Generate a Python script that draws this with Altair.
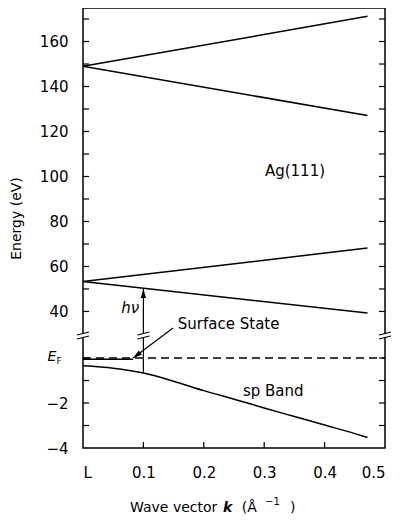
import altair as alt
import pandas as pd

FONT = "DejaVu Sans"

# ---------------- values ----------------
# final-state (upper) bands, energies in eV
band_k = [0.0, 0.471]
band1_upper = [149.0, 171.2]
band1_lower = [149.0, 127.1]
band2_upper = [53.3, 68.2]
band2_lower = [53.3, 39.3]
# sp band (initial state), energy relative to E_F in eV
sp_k = [0.0, 0.05, 0.10, 0.15, 0.20, 0.25, 0.30, 0.35, 0.40, 0.45, 0.471]
sp_E = [-0.34, -0.45, -0.67, -1.03, -1.45, -1.83, -2.22, -2.60, -2.98, -3.36, -3.53]
# surface state and Fermi level
ss_k = [0.0, 0.083]
ss_E = [-0.06, -0.06]
ef_k = [0.0, 0.5]
ef_E = [0.0, 0.0]
# photon (h nu) arrow
hv_k = 0.1
hv_E = [-0.67, 50.0]
# surface-state pointer arrow: start (text side) and tip
ss_arrow_k = [0.149, 0.083]
ss_arrow_E = [1.33, 0.0]
# axes
lower_ticks = [-3, -2, -1, 0]
upper_ticks = [40, 50, 60, 70, 80, 90, 100, 110, 120, 130, 140, 150, 160, 170]
lower_labels = [-4, -2]
upper_labels = [40, 60, 80, 100, 120, 140, 160]
x_ticks = [0.1, 0.2, 0.3, 0.4]
x_labels = [0.0, 0.1, 0.2, 0.3, 0.4, 0.5]
break_k = [0.0, 0.1, 0.5]
break_E = 1.0  # top of the lower (E - E_F) segment

# broken axis: lower segment in eV directly, upper segment compressed 10x
UPPER_SHIFT = 19.3


def lo(e):
    return e


def up(e):
    return (e - UPPER_SHIFT) / 10.0


W, H = 302, 440
xs = alt.Scale(domain=[0, 0.5], nice=False, zero=False)
ys = alt.Scale(domain=[-4, 15.56], nice=False, zero=False)

xaxis = alt.Axis(
    values=x_labels,
    labelExpr="datum.value == 0 ? 'L' : format(datum.value, '.1f')",
    title="", domain=False, ticks=False, tickSize=0, grid=False,
    labelPadding=17, labelFontSize=15, labelFont=FONT, labelColor="black",
)
yaxis = alt.Axis(
    values=[lo(v) for v in lower_labels] + [up(v) for v in upper_labels],
    labelExpr=f"datum.value < 1.5 ? format(datum.value, 'd') : format(round(datum.value * 10 + {UPPER_SHIFT}), 'd')",
    title="Energy (eV)", titleFont=FONT, titleFontSize=14, titleFontWeight="normal",
    titleColor="black", titleX=-60, titleY=210, titleAngle=270, titleBaseline="bottom",
    domain=False, ticks=False, tickSize=0, grid=False,
    labelPadding=15, labelFontSize=15, labelFont=FONT, labelColor="black",
)
X = alt.X("k:Q", scale=xs, axis=xaxis)
Y = alt.Y("y:Q", scale=ys, axis=yaxis)

# ---------------- curves ----------------
rows = []
for name, vals in [("b1u", band1_upper), ("b1l", band1_lower), ("b2u", band2_upper), ("b2l", band2_lower)]:
    for k, e in zip(band_k, vals):
        rows.append({"s": name, "k": k, "y": up(e)})
for k, e in zip(ss_k, ss_E):
    rows.append({"s": "ss", "k": k, "y": lo(e)})
curves = pd.DataFrame(rows)

lines = alt.Chart(curves).mark_line(color="black", strokeWidth=1.5).encode(
    x=X, y=Y, detail="s:N", order="k:Q")

sp = alt.Chart(pd.DataFrame({"k": sp_k, "y": [lo(e) for e in sp_E]})).mark_line(
    color="black", strokeWidth=1.5, interpolate="monotone").encode(x=X, y=Y, order="k:Q")

ef = alt.Chart(pd.DataFrame({"k": ef_k, "y": [lo(e) for e in ef_E]})).mark_line(
    color="black", strokeWidth=1.5, strokeDash=[8, 5]).encode(x=X, y=Y)

# ---------------- ticks (inward) ----------------
tick_y = pd.DataFrame({"y": [lo(v) for v in lower_ticks] + [up(v) for v in upper_ticks]})
lt = alt.Chart(tick_y).mark_rule(color="black", strokeWidth=1.2).encode(
    x=alt.value(0), x2=alt.value(6), y=Y)
rt = alt.Chart(tick_y).mark_rule(color="black", strokeWidth=1.2).encode(
    x=alt.value(W - 6), x2=alt.value(W), y=Y)
bt = alt.Chart(pd.DataFrame({"k": x_ticks})).mark_rule(color="black", strokeWidth=1.2).encode(
    x=X, y=alt.value(H), y2=alt.value(H - 6))

# ---------------- h nu arrow ----------------
hv_df = pd.DataFrame({"k": [hv_k], "y": [lo(hv_E[0])], "k2": [hv_k], "y2": [up(hv_E[1])]})
hv_line = alt.Chart(hv_df).mark_rule(color="black", strokeWidth=1.2).encode(
    x=X, y=Y, x2="k2:Q", y2="y2:Q")
ARROW = "M0,-1L0.6,1L-0.6,1Z"
hv_head = alt.Chart(pd.DataFrame({"k": [hv_k], "y": [up(hv_E[1])]})).mark_point(
    shape=ARROW, filled=True, color="black", opacity=1, size=81, strokeWidth=0, yOffset=4.5
).encode(x=X, y=Y)

# ---------------- surface state pointer ----------------
ss_df = pd.DataFrame({"k": [ss_arrow_k[0]], "y": [lo(ss_arrow_E[0])],
                      "k2": [ss_arrow_k[1]], "y2": [lo(ss_arrow_E[1])]})
ss_line = alt.Chart(ss_df).mark_rule(color="black", strokeWidth=1.2).encode(
    x=X, y=Y, x2="k2:Q", y2="y2:Q")
ss_head = alt.Chart(pd.DataFrame({"k": [ss_arrow_k[1]], "y": [lo(ss_arrow_E[1])]})).mark_point(
    shape=ARROW, filled=True, color="black", opacity=1, size=81, strokeWidth=0,
    angle=233, xOffset=3.6, yOffset=-2.7
).encode(x=X, y=Y)

# ---------------- axis breaks ----------------
br = pd.DataFrame({"k": break_k, "y": [lo(break_E)] * len(break_k)})
br_white = alt.Chart(br).mark_rule(color="white", strokeWidth=4, yOffset=-1.5, y2Offset=1.5).encode(
    x=X, y=Y, y2=alt.Y2("y"))
br_a = alt.Chart(br).mark_rule(color="black", strokeWidth=1.2, xOffset=-6, x2Offset=6,
                               yOffset=-0.5, y2Offset=-3.5).encode(x=X, y=Y, x2=alt.X2("k"), y2=alt.Y2("y"))
br_b = alt.Chart(br).mark_rule(color="black", strokeWidth=1.2, xOffset=-6, x2Offset=6,
                               yOffset=3.5, y2Offset=0.5).encode(x=X, y=Y, x2=alt.X2("k"), y2=alt.Y2("y"))

# ---------------- labels ----------------
def label(text, k, y, **kw):
    return alt.Chart(pd.DataFrame({"k": [k], "y": [y], "t": [text]})).mark_text(
        font=FONT, color="black", **kw).encode(x=X, y=Y, text="t:N")


ag = label("Ag(111)", 0.351, up(102.5), fontSize=15, align="center", baseline="middle")
spl = label("sp Band", 0.315, lo(-1.47), fontSize=15, align="center", baseline="middle")
ssl = label("Surface State", 0.157, lo(1.5), fontSize=15, align="left", baseline="middle")
hvl = label("hν", 0.078, lo(1.99), fontSize=15, align="center", baseline="alphabetic", fontStyle="italic")
efE = label("E", 0.0, lo(0.0), fontSize=14, align="center", baseline="middle", fontStyle="italic", dx=-31, dy=-1.5)
efF = label("F", 0.0, lo(0.0), fontSize=9, align="center", baseline="middle", dx=-24, dy=3)

# x-axis title pieces (mixed fonts)
def title_piece(text, px, py, **kw):
    return alt.Chart(pd.DataFrame({"t": [text]})).mark_text(
        font=FONT, color="black", baseline="alphabetic", align="left", **kw).encode(
        x=alt.value(px), y=alt.value(py), text="t:N")


t1 = title_piece("Wave vector", 47, 503.7, fontSize=14)
t2 = title_piece("k", 140, 503.7, fontSize=14, fontWeight="bold", fontStyle="italic")
t3 = title_piece("(Å", 158.7, 503.7, fontSize=14)
t4 = title_piece("−1", 182, 497, fontSize=10)
t5 = title_piece(")", 207, 503.7, fontSize=14)

chart = alt.layer(
    lines, sp, ef, lt, rt, bt, hv_line, hv_head, ss_line, ss_head,
    br_white, br_a, br_b, ag, spl, ssl, hvl, efE, efF, t1, t2, t3, t4, t5
).properties(
    width=W, height=H,
    autosize=alt.AutoSizeParams(type="none"),
    padding={"left": 75, "top": 0, "right": 7, "bottom": 66},
).configure_view(stroke="black", strokeWidth=1.5)

chart.save("out.html", embed_options={"renderer": "svg", "actions": False})
